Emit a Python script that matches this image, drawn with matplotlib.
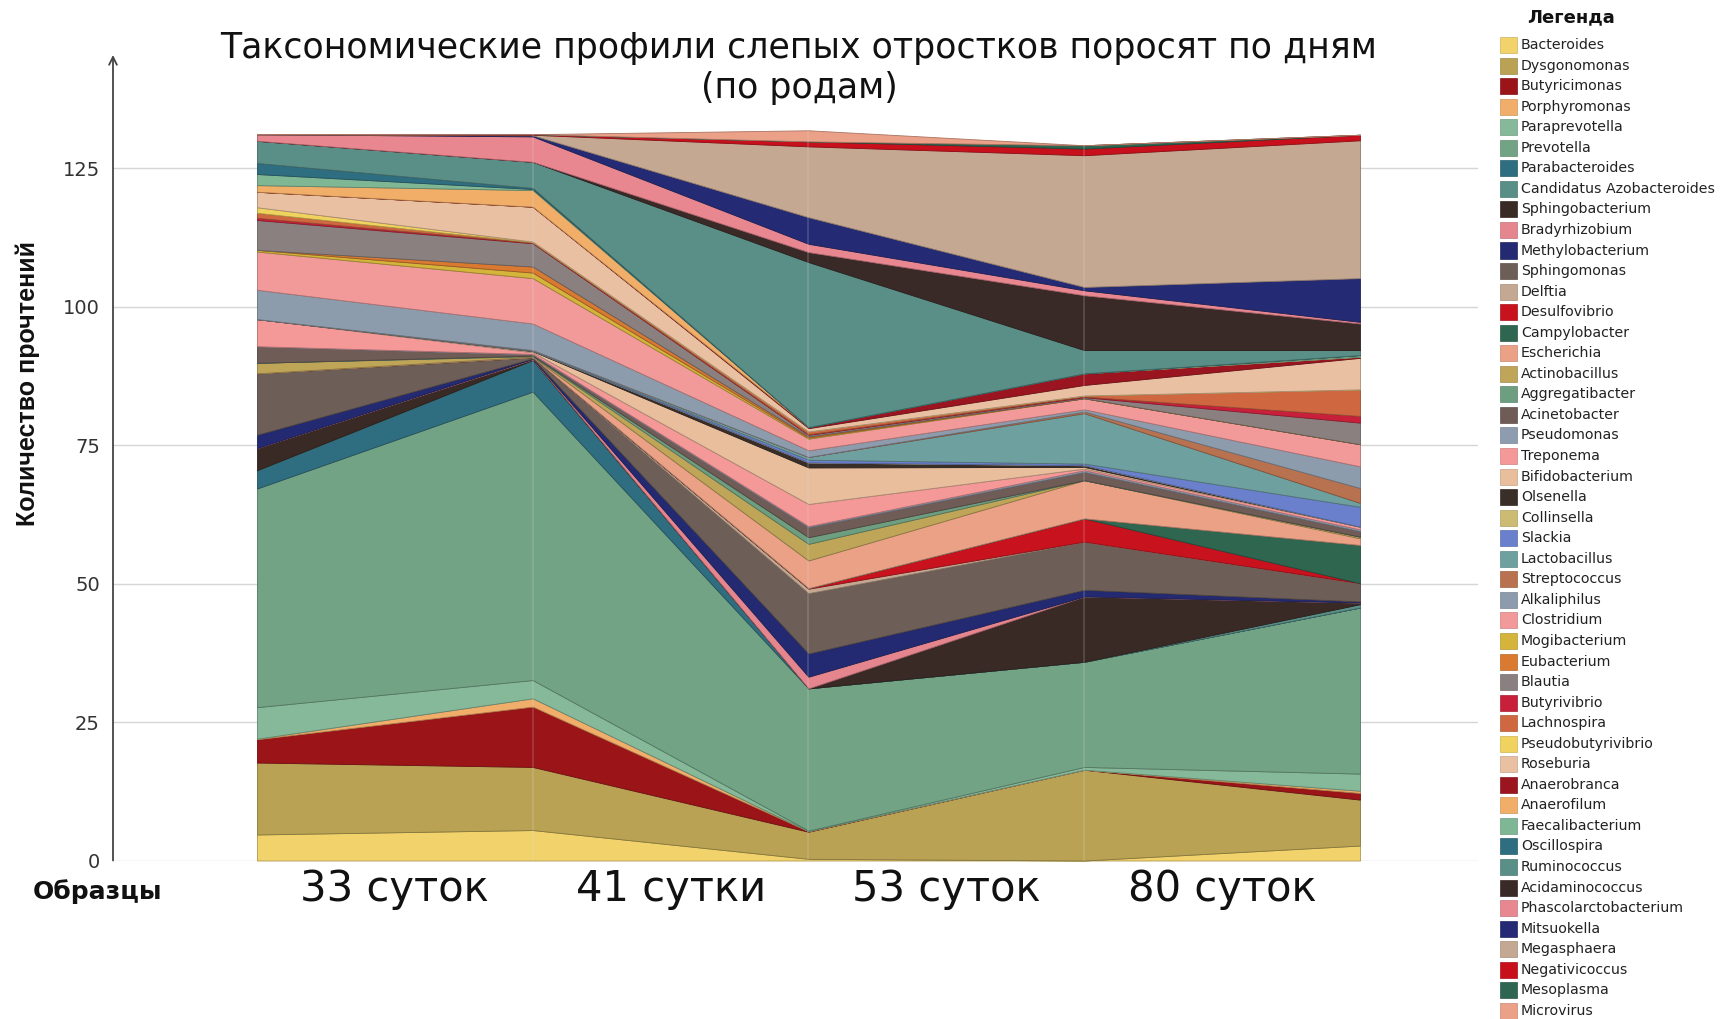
import numpy as np
import matplotlib
matplotlib.use("Agg")
import matplotlib.pyplot as plt
import matplotlib.colors as mcolors
from matplotlib.patches import Rectangle

plt.rcParams['font.family'] = ['DejaVu Sans']

genera = ["Bacteroides", "Dysgonomonas", "Butyricimonas", "Porphyromonas", "Paraprevotella",
          "Prevotella", "Parabacteroides", "Candidatus Azobacteroides", "Sphingobacterium",
          "Bradyrhizobium", "Methylobacterium", "Sphingomonas", "Delftia", "Desulfovibrio",
          "Campylobacter", "Escherichia", "Actinobacillus", "Aggregatibacter", "Acinetobacter",
          "Pseudomonas", "Treponema", "Bifidobacterium", "Olsenella", "Collinsella", "Slackia",
          "Lactobacillus", "Streptococcus", "Alkaliphilus", "Clostridium", "Mogibacterium",
          "Eubacterium", "Blautia", "Butyrivibrio", "Lachnospira", "Pseudobutyrivibrio",
          "Roseburia", "Anaerobranca", "Anaerofilum", "Faecalibacterium", "Oscillospira",
          "Ruminococcus", "Acidaminococcus", "Phascolarctobacterium", "Mitsuokella",
          "Megasphaera", "Negativicoccus", "Mesoplasma", "Microvirus"]

colors = ["#F2D36B", "#B9A253", "#9A1418", "#F0AE6A", "#86B99A",
          "#72A385", "#2F6E80", "#5A8F87", "#3A2A26",
          "#E5868F", "#232A72", "#6E5E58", "#C4A892", "#C8121E",
          "#2F6650", "#EBA185", "#BFA558", "#6E9E80", "#6F5C56",
          "#8E9CB0", "#F49898", "#E8BE9C", "#3A2E28", "#CCBB73", "#6A80CC",
          "#6FA0A0", "#B8724F", "#8D9CAC", "#F29A9A", "#D4B43A",
          "#D97A30", "#8A8080", "#C8203A", "#CF6840", "#F0D35E",
          "#E9C0A2", "#9A1520", "#F0AE68", "#7FB795", "#2E6E80",
          "#5A8F88", "#3A2A27", "#E88790", "#252A74",
          "#C5A892", "#C8101C", "#2E6651", "#EBA088"]

# read counts at the five profile points (left edge, three joints, right edge)
p0 = [4.7, 13.0, 4.2, 0.1, 5.7, 39.5, 3.3, 0.0, 4.0, 0.0, 2.4, 11.1, 0.0, 0.0, 0.0, 0.0,
      1.9, 0.0, 3.0, 0.0, 4.9, 0.0, 0.0, 0.0, 0.0, 0.0, 0.0, 5.3, 6.9, 0.3, 0.0, 5.4,
      0.4, 0.9, 1.0, 2.8, 0.0, 1.2, 2.0, 2.0, 4.0, 0.0, 1.2, 0.0, 0.0, 0.0, 0.0, 0.0]
p1 = [5.5, 11.4, 10.9, 1.5, 3.3, 52.1, 5.7, 0.0, 0.1, 0.1, 0.1, 0.2, 0.0, 0.0, 0.0, 0.1,
      0.1, 0.1, 0.2, 0.1, 0.3, 0.2, 0.1, 0.0, 0.0, 0.1, 0.0, 4.8, 8.2, 1.0, 1.1, 4.2,
      0.1, 0.1, 0.1, 6.3, 0.0, 3.0, 0.2, 0.2, 4.7, 0.0, 4.6, 0.2, 0.1, 0.1, 0.0, 0.0]
p2 = [0.3, 4.9, 0.1, 0.0, 0.1, 25.7, 0.0, 0.0, 0.0, 2.1, 4.2, 10.9, 0.8, 0.1, 0.0, 5.0,
      3.0, 1.2, 1.8, 0.2, 4.0, 6.6, 0.9, 0.0, 0.5, 0.5, 0.0, 1.2, 2.1, 0.2, 0.2, 0.3,
      0.1, 0.5, 0.0, 0.6, 0.2, 0.0, 0.0, 0.0, 29.8, 1.8, 1.5, 4.8, 12.8, 0.9, 0.0, 2.0]
p3 = [0.0, 16.4, 0.0, 0.0, 0.5, 19.0, 0.0, 0.0, 11.8, 0.0, 1.2, 8.7, 0.0, 4.2, 0.0, 6.9,
      0.0, 0.0, 1.5, 0.3, 0.3, 0.3, 0.3, 0.0, 0.3, 9.1, 0.3, 0.4, 2.0, 0.0, 0.0, 0.2,
      0.1, 0.2, 0.0, 1.9, 2.1, 0.0, 0.0, 0.0, 4.2, 9.9, 0.9, 0.6, 23.8, 1.2, 0.6, 0.0]
p4 = [2.7, 8.3, 1.2, 0.4, 3.1, 30.0, 0.0, 0.6, 0.3, 0.0, 0.2, 3.3, 0.0, 0.0, 6.9, 1.2,
      0.3, 0.0, 1.0, 0.3, 0.5, 0.0, 0.0, 0.0, 3.6, 0.7, 2.7, 3.9, 4.0, 0.0, 0.0, 3.9,
      1.2, 4.8, 0.0, 5.7, 0.2, 0.0, 0.3, 0.0, 0.9, 4.8, 0.3, 7.9, 24.9, 1.0, 0.0, 0.0]

samples = ["33 суток", "41 сутки", "53 суток", "80 суток"]
yticks = [0, 25, 50, 75, 100, 125]

W, H = 1723, 1019
fig = plt.figure(figsize=(W / 100, H / 100), dpi=100)
ax = fig.add_axes([113 / W, 1 - 860.5 / H, (1478 - 113) / W, (860.5 - 55) / H])

x = np.arange(5)
Y = np.array([p0, p1, p2, p3, p4]).T
polys = ax.stackplot(x, Y, colors=colors, linewidth=0.6, zorder=2)
for p, c in zip(polys, colors):
    p.set_edgecolor(np.array(mcolors.to_rgb(c)) * 0.72)

totals = Y.sum(axis=0)
ax.vlines(x[1:4], 0, totals[1:4], color="#dddddd", alpha=0.2, lw=1.2, zorder=3)

ax.set_xlim(-0.522, 4.428)
ax.set_ylim(0, 145.5)
for s in ax.spines.values():
    s.set_visible(False)
ax.set_yticks(yticks)
ax.yaxis.grid(True, color="#d6d6d6", lw=1.0, zorder=0)
ax.set_axisbelow(True)
ax.tick_params(axis="y", left=False, labelsize=14, labelcolor="#333333", pad=6)
ax.set_xticks([0.5, 1.5, 2.5, 3.5])
ax.set_xticklabels(samples, fontsize=30, color="#111111")
ax.tick_params(axis="x", bottom=False, pad=2)

ax.annotate("", xy=(0, 1), xycoords="axes fraction", xytext=(0, 0),
            arrowprops=dict(arrowstyle="->", color="#444444", lw=1.3,
                            shrinkA=0, shrinkB=0, mutation_scale=14))

fig.text(799 / W, 1 - 48 / H, "Таксономические профили слепых отростков поросят по дням",
         ha="center", va="center", fontsize=25, color="#111111")
fig.text(799 / W, 1 - 88 / H, "(по родам)", ha="center", va="center", fontsize=25, color="#111111")

fig.text(27.5 / W, 1 - 384 / H, "Количество прочтений", rotation=90, ha="center", va="center",
         fontsize=18, fontweight="bold", family=["Liberation Sans", "DejaVu Sans"], color="#111111")
fig.text(33 / W, 1 - 892 / H, "Образцы", ha="left", va="center", fontsize=18,
         fontweight="bold", color="#111111")

# legend
fig.text(1571 / W, 1 - 17 / H, "Легенда", ha="center", va="center", fontsize=13,
         fontweight="bold", color="#111111")
for i, (g, c) in enumerate(zip(genera, colors)):
    yc = 45 + i * 20.55
    fig.patches.append(Rectangle((1500 / W, 1 - (yc + 8) / H), 17 / W, 16 / H,
                                 transform=fig.transFigure, facecolor=c,
                                 edgecolor=np.array(mcolors.to_rgb(c)) * 0.85, lw=0.5))
    fig.text(1521 / W, 1 - yc / H, g, ha="left", va="center", fontsize=10.2, color="#222222")

fig.savefig("out.png", dpi=100)
